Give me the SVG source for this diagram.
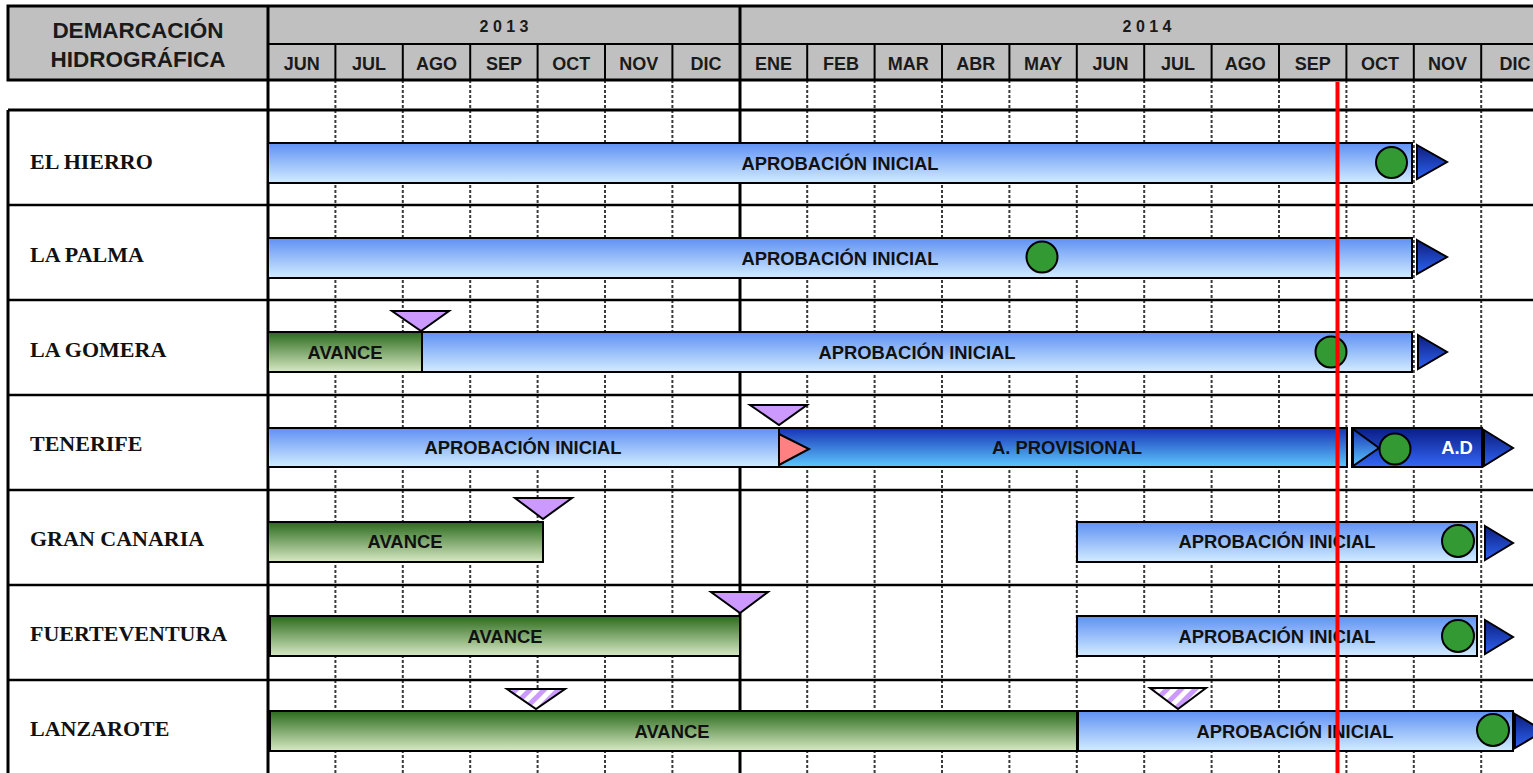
<svg xmlns="http://www.w3.org/2000/svg" width="1533" height="773" viewBox="0 0 1533 773">
<style>
.hdr{font-family:"Liberation Sans",Arial,sans-serif;font-weight:bold;fill:#1a1a1a;text-anchor:middle}
.mon{font-size:18px}
.yr{font-size:16px}
.dem{font-size:22.5px}
.lbl{font-family:"Liberation Serif","Times New Roman",serif;font-weight:bold;font-size:22px;fill:#111}
.bt{font-family:"Liberation Sans",Arial,sans-serif;font-weight:bold;font-size:18.4px;fill:#111;text-anchor:middle}
.btw{fill:#fff}
.grid{stroke:#3a3a3a;stroke-width:2;stroke-dasharray:3 2}
.solid{stroke:#000;stroke-width:3}
.hl{stroke:#000;stroke-width:2.5}
.blue{fill:url(#gBlue);stroke:#000;stroke-width:2}
.green{fill:url(#gGreen);stroke:#000;stroke-width:2}
.prov{fill:url(#gProv);stroke:#000;stroke-width:2}
.ad{fill:url(#gAD);stroke:#000;stroke-width:2}
.dot{fill:#339933;stroke:#000;stroke-width:2}
.arr{fill:url(#gArr);stroke:#000;stroke-width:2}
.purp{fill:#CC99FF;stroke:#000;stroke-width:2}
.hatch{fill:url(#pHatch);stroke:#000;stroke-width:2}
.red{fill:#FF8080;stroke:#000;stroke-width:2}
</style>
<defs>
<linearGradient id="gBlue" x1="0" y1="0" x2="0" y2="1"><stop offset="0" stop-color="#5F90F4"/><stop offset="1" stop-color="#D2ECFF"/></linearGradient>
<linearGradient id="gGreen" x1="0" y1="0" x2="0" y2="1"><stop offset="0" stop-color="#2A6A1C"/><stop offset="1" stop-color="#D8E9C4"/></linearGradient>
<linearGradient id="gProv" x1="0" y1="0" x2="0" y2="1"><stop offset="0" stop-color="#1832B8"/><stop offset="1" stop-color="#5CC8FC"/></linearGradient>
<linearGradient id="gAD" x1="0" y1="0" x2="0" y2="1"><stop offset="0" stop-color="#0A1C86"/><stop offset="1" stop-color="#3468F6"/></linearGradient>
<linearGradient id="gArr" x1="0" y1="0" x2="0" y2="1"><stop offset="0" stop-color="#0C1E7E"/><stop offset="1" stop-color="#2E62F2"/></linearGradient>
<pattern id="pHatch" patternUnits="userSpaceOnUse" width="10" height="10" patternTransform="rotate(45)"><rect width="10" height="10" fill="#fff"/><rect width="5" height="10" fill="#CC99FF"/></pattern>
</defs>
<rect width="1533" height="773" fill="#fff"/>

<g id="grid">
<line class="grid" x1="335.4" y1="80" x2="335.4" y2="773"/>
<line class="grid" x1="402.8" y1="80" x2="402.8" y2="773"/>
<line class="grid" x1="470.2" y1="80" x2="470.2" y2="773"/>
<line class="grid" x1="537.6" y1="80" x2="537.6" y2="773"/>
<line class="grid" x1="605" y1="80" x2="605" y2="773"/>
<line class="grid" x1="672.4" y1="80" x2="672.4" y2="773"/>
<line class="grid" x1="807.2" y1="80" x2="807.2" y2="773"/>
<line class="grid" x1="874.6" y1="80" x2="874.6" y2="773"/>
<line class="grid" x1="942" y1="80" x2="942" y2="773"/>
<line class="grid" x1="1009.4" y1="80" x2="1009.4" y2="773"/>
<line class="grid" x1="1076.8" y1="80" x2="1076.8" y2="773"/>
<line class="grid" x1="1144.2" y1="80" x2="1144.2" y2="773"/>
<line class="grid" x1="1211.6" y1="80" x2="1211.6" y2="773"/>
<line class="grid" x1="1279" y1="80" x2="1279" y2="773"/>
<line class="grid" x1="1346.4" y1="80" x2="1346.4" y2="773"/>
<line class="grid" x1="1413.8" y1="80" x2="1413.8" y2="773"/>
<line class="grid" x1="1481.2" y1="80" x2="1481.2" y2="773"/>
<line class="hl" x1="8" y1="205" x2="1533" y2="205"/>
<line class="hl" x1="8" y1="300" x2="1533" y2="300"/>
<line class="hl" x1="8" y1="395" x2="1533" y2="395"/>
<line class="hl" x1="8" y1="490" x2="1533" y2="490"/>
<line class="hl" x1="8" y1="585" x2="1533" y2="585"/>
<line class="hl" x1="8" y1="680" x2="1533" y2="680"/>
<line class="solid" x1="8" y1="110" x2="1533" y2="110"/>
<line class="solid" x1="8" y1="110" x2="8" y2="773"/>
<line class="solid" x1="268" y1="80" x2="268" y2="773"/>
<line class="solid" x1="740" y1="80" x2="740" y2="773"/>
</g>

<g id="header">
<rect x="8" y="6" width="1530" height="74" fill="#C0C0C0" stroke="#000" stroke-width="3"/>
<line class="solid" x1="268" y1="6" x2="268" y2="80"/>
<line class="solid" x1="740" y1="6" x2="740" y2="80"/>
<line x1="268" y1="44" x2="1533" y2="44" stroke="#000" stroke-width="2"/>
<g stroke="#000" stroke-width="2">
<line x1="335.4" y1="44" x2="335.4" y2="80"/><line x1="402.8" y1="44" x2="402.8" y2="80"/><line x1="470.2" y1="44" x2="470.2" y2="80"/><line x1="537.6" y1="44" x2="537.6" y2="80"/><line x1="605" y1="44" x2="605" y2="80"/><line x1="672.4" y1="44" x2="672.4" y2="80"/><line x1="807.2" y1="44" x2="807.2" y2="80"/><line x1="874.6" y1="44" x2="874.6" y2="80"/><line x1="942" y1="44" x2="942" y2="80"/><line x1="1009.4" y1="44" x2="1009.4" y2="80"/><line x1="1076.8" y1="44" x2="1076.8" y2="80"/><line x1="1144.2" y1="44" x2="1144.2" y2="80"/><line x1="1211.6" y1="44" x2="1211.6" y2="80"/><line x1="1279" y1="44" x2="1279" y2="80"/><line x1="1346.4" y1="44" x2="1346.4" y2="80"/><line x1="1413.8" y1="44" x2="1413.8" y2="80"/><line x1="1481.2" y1="44" x2="1481.2" y2="80"/>
</g>
<text class="hdr dem" x="138" y="38">DEMARCACIÓN</text>
<text class="hdr dem" x="138" y="67">HIDROGRÁFICA</text>
<text class="hdr yr" x="504" y="32">2 0 1 3</text>
<text class="hdr yr" x="1147" y="32">2 0 1 4</text>
<g class="hdr mon">
<text x="301.7" y="70">JUN</text><text x="369.1" y="70">JUL</text><text x="436.5" y="70">AGO</text><text x="503.9" y="70">SEP</text><text x="571.3" y="70">OCT</text><text x="638.7" y="70">NOV</text><text x="706.1" y="70">DIC</text>
<text x="773.5" y="70">ENE</text><text x="840.9" y="70">FEB</text><text x="908.3" y="70">MAR</text><text x="975.7" y="70">ABR</text><text x="1043.1" y="70">MAY</text><text x="1110.5" y="70">JUN</text><text x="1177.9" y="70">JUL</text><text x="1245.3" y="70">AGO</text><text x="1312.7" y="70">SEP</text><text x="1380.1" y="70">OCT</text><text x="1447.5" y="70">NOV</text><text x="1514.9" y="70">DIC</text>
</g>
</g>

<g id="el-hierro">
<text class="lbl" x="30" y="169">EL HIERRO</text>
<rect class="blue" x="268" y="143" width="1144" height="40"/>
<text class="bt" x="840" y="170">APROBACIÓN INICIAL</text>
<circle class="dot" cx="1391.5" cy="162.5" r="15.5"/>
<polygon class="arr" points="1417,145 1447,162 1417,179"/>
</g>

<g id="la-palma">
<text class="lbl" x="30" y="262">LA PALMA</text>
<rect class="blue" x="268" y="238" width="1144" height="40"/>
<text class="bt" x="840" y="265">APROBACIÓN INICIAL</text>
<circle class="dot" cx="1042" cy="257" r="15.5"/>
<polygon class="arr" points="1417,240 1447,257 1417,274"/>
</g>

<g id="la-gomera">
<text class="lbl" x="30" y="357">LA GOMERA</text>
<rect class="green" x="268" y="332" width="154" height="40"/>
<rect class="blue" x="422" y="332" width="990" height="40"/>
<text class="bt" x="345" y="359">AVANCE</text>
<text class="bt" x="917" y="359">APROBACIÓN INICIAL</text>
<circle class="dot" cx="1331" cy="352" r="15.5"/>
<polygon class="arr" points="1418,335 1447,352 1418,369"/>
<polygon class="purp" points="392,311 449,311 421,331"/>
</g>

<g id="tenerife">
<text class="lbl" x="30" y="451">TENERIFE</text>
<rect class="blue" x="268" y="428" width="511" height="39"/>
<rect class="prov" x="779" y="428" width="568" height="39"/>
<rect class="ad" x="1352" y="428" width="130" height="39"/>
<text class="bt" x="523" y="454">APROBACIÓN INICIAL</text>
<text class="bt" x="1067" y="454">A. PROVISIONAL</text>
<text class="bt btw" x="1457" y="454">A.D</text>
<polygon class="red" points="779,434 809,449 779,465"/>
<polygon class="prov" points="1353,429 1379,448 1353,466"/>
<circle class="dot" cx="1395" cy="449" r="15.5"/>
<polygon class="arr" points="1484,430 1513,448 1484,466"/>
<polygon class="purp" points="750,405 807,405 779,425"/>
</g>

<g id="gran-canaria">
<text class="lbl" x="30" y="546">GRAN CANARIA</text>
<rect class="green" x="268" y="522" width="275" height="40"/>
<rect class="blue" x="1077" y="522" width="400" height="40"/>
<text class="bt" x="405" y="548">AVANCE</text>
<text class="bt" x="1277" y="548">APROBACIÓN INICIAL</text>
<circle class="dot" cx="1458" cy="541" r="16"/>
<polygon class="arr" points="1485,526 1513,543 1485,560"/>
<polygon class="purp" points="515,498 572,498 543,519"/>
</g>

<g id="fuerteventura">
<text class="lbl" x="30" y="641">FUERTEVENTURA</text>
<rect class="green" x="270" y="616" width="470" height="40"/>
<rect class="blue" x="1077" y="616" width="400" height="40"/>
<text class="bt" x="505" y="643">AVANCE</text>
<text class="bt" x="1277" y="643">APROBACIÓN INICIAL</text>
<circle class="dot" cx="1458" cy="636" r="16"/>
<polygon class="arr" points="1485,620 1513,637 1485,654"/>
<polygon class="purp" points="711,592 768,592 740,613"/>
</g>

<g id="lanzarote">
<text class="lbl" x="30" y="736">LANZAROTE</text>
<rect class="green" x="270" y="711" width="807" height="40"/>
<rect class="blue" x="1078" y="711" width="435" height="40"/>
<text class="bt" x="672" y="738">AVANCE</text>
<text class="bt" x="1295" y="738">APROBACIÓN INICIAL</text>
<circle class="dot" cx="1493" cy="730" r="16"/>
<polygon class="arr" points="1515,714 1544,731 1515,748"/>
<polygon class="hatch" points="507,689 565,689 536,709"/>
<polygon class="hatch" points="1150,688 1206,688 1178,709"/>
</g>

<g id="connectors">
<line x1="1337.5" y1="82" x2="1337.5" y2="773" stroke="#FF0000" stroke-width="4"/>
</g>
</svg>
